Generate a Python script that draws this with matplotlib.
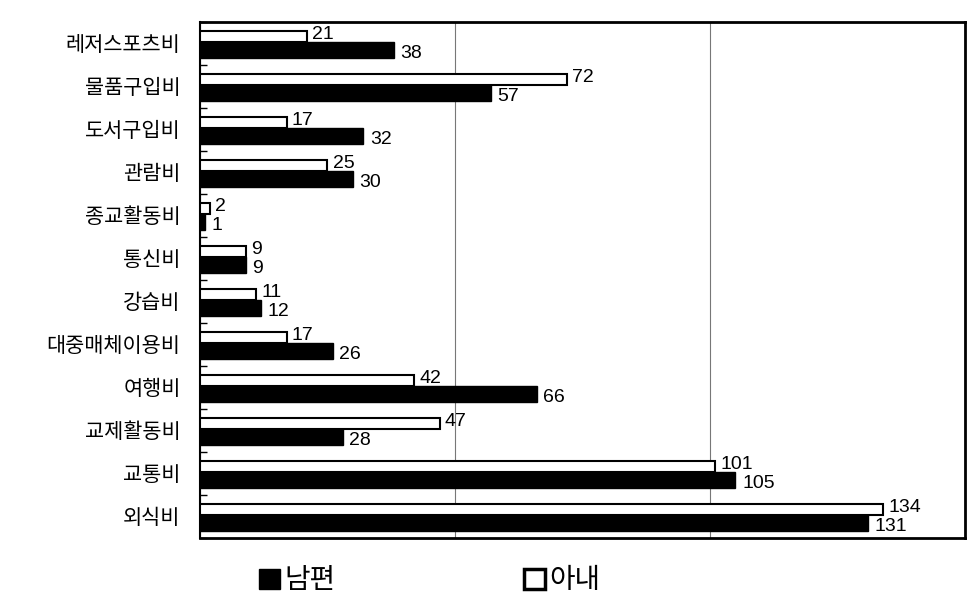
import numpy as np
import matplotlib.pyplot as plt

plt.rcParams['font.family'] = ['Liberation Sans', 'Noto Sans CJK KR']

categories = ['레저스포츠비', '물품구입비', '도서구입비', '관람비', '종교활동비', '통신비',
              '강습비', '대중매체이용비', '여행비', '교제활동비', '교통비', '외식비']
husband = [38, 57, 32, 30, 1, 9, 12, 26, 66, 28, 105, 131]
wife = [21, 72, 17, 25, 2, 9, 11, 17, 42, 47, 101, 134]

fig = plt.figure(figsize=(9.77, 6.12), dpi=100)
ax = fig.add_axes([0.2047, 0.121, 0.783, 0.843])

y = np.arange(len(categories))
y_wife = y - 0.16
y_hus = y + 0.15

ax.barh(y_hus, husband, height=0.38, color='black', edgecolor='black', zorder=3)
ax.barh(y_wife, wife, height=0.24, color='white', edgecolor='black', linewidth=1.5, zorder=3)

for yi, v in zip(y_wife, wife):
    ax.text(v + 1.0, yi - 0.05, str(v), fontsize=14, va='center', ha='left', zorder=4)
for yi, v in zip(y_hus, husband):
    ax.text(v + 1.3, yi + 0.08, str(v), fontsize=14, va='center', ha='left', zorder=4)

ax.set_xlim(0, 150)
ax.set_ylim(len(categories) - 0.5, -0.5)
ax.set_xticks([0, 50, 100, 150])
ax.set_xticklabels([])
ax.tick_params(axis='x', length=0)
ax.xaxis.grid(True, color='#777777', linewidth=0.8, zorder=0)

ax.set_yticks(y)
ax.set_yticklabels(categories, fontsize=15)
ax.tick_params(axis='y', length=0, pad=14)
ax.set_yticks(np.arange(-0.5, len(categories), 1), minor=True)
ax.tick_params(axis='y', which='minor', direction='in', length=5, width=1)

for side in ['top', 'right', 'bottom']:
    ax.spines[side].set_linewidth(2)
ax.spines['left'].set_linewidth(1.5)

h1 = plt.Rectangle((0, 0), 1, 1, facecolor='black', edgecolor='black')
h2 = plt.Rectangle((0, 0), 1, 1, facecolor='white', edgecolor='black', linewidth=2.5)
fig.legend([h1, h2], ['남편', '아내'], loc='center', bbox_to_anchor=(0.44, 0.05),
           ncol=2, frameon=False, fontsize=20, handlelength=0.75, handleheight=0.75,
           handletextpad=0.15, columnspacing=6.8)

fig.savefig('out.png', dpi=100)
